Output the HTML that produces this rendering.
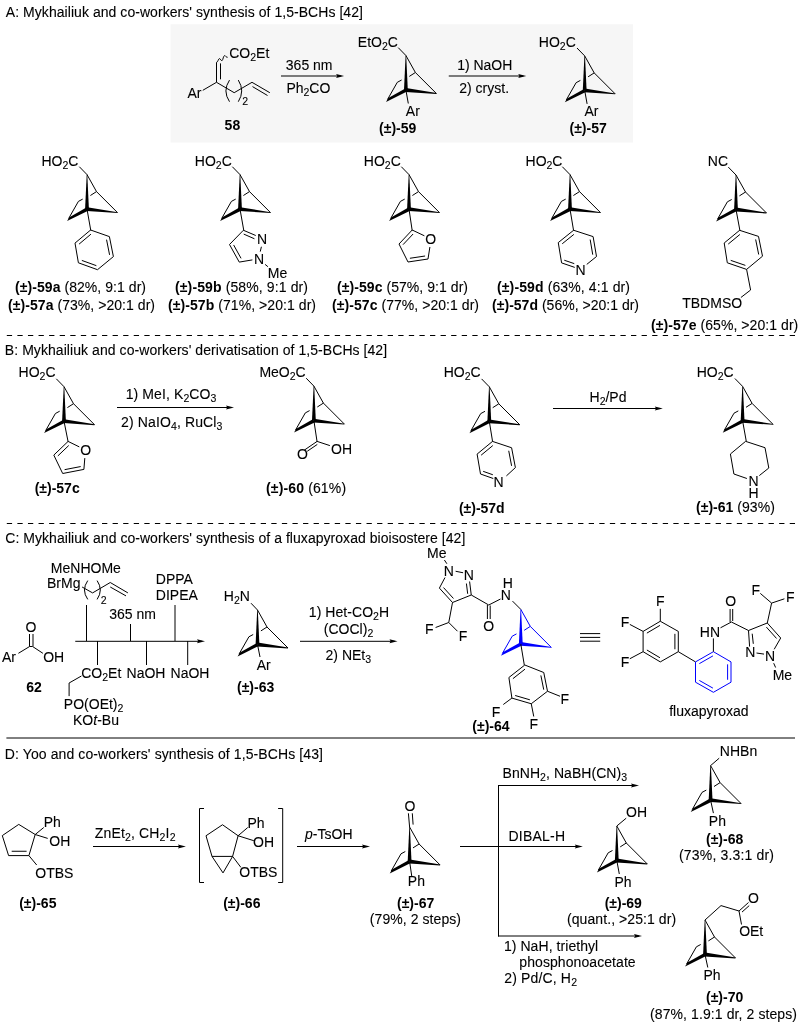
<!DOCTYPE html>
<html><head><meta charset="utf-8"><style>
html,body{margin:0;padding:0;background:#fff;}
svg{display:block;font-family:"Liberation Sans",sans-serif;will-change:transform;}
</style></head><body>
<svg width="800" height="1024" viewBox="0 0 800 1024" font-family="Liberation Sans, sans-serif"><rect x="0" y="0" width="800" height="1024" fill="#fff"/><rect x="170.6" y="24.25" width="462.4" height="118.25" fill="#f6f6f6"/><path d="M216.5,62.3 C218,62.3 218.3,58.6 219.4,58.6 S221.2,61.2 222.1,60.6 S223.4,55.6 224.6,55.6 S226.2,57.6 227.6,57.3" fill="none" stroke="#000" stroke-width="1"/><line x1="216.50" y1="62.30" x2="216.50" y2="82.30" stroke="#000" stroke-width="1"/><line x1="220.50" y1="63.40" x2="220.50" y2="79.30" stroke="#000" stroke-width="1"/><line x1="216.50" y1="82.30" x2="202.80" y2="90.30" stroke="#000" stroke-width="1"/><polyline points="216.50,82.30 234.20,92.70 252.00,82.30 269.80,92.70" fill="none" stroke="#000" stroke-width="1" stroke-linejoin="miter"/><line x1="252.50" y1="86.60" x2="267.50" y2="95.50" stroke="#000" stroke-width="1"/><path d="M229.5,80.1 Q222.3,90.9 229.5,101.7" fill="none" stroke="#000" stroke-width="1"/><path d="M238.3,80.1 Q245.1,90.9 238.3,101.7" fill="none" stroke="#000" stroke-width="1"/><line x1="281.00" y1="76.00" x2="341.10" y2="76.00" stroke="#000" stroke-width="1"/><polygon points="344.10,76.00 336.10,78.00 337.30,76.00 336.10,74.00" fill="#000"/><polygon points="405.60,55.50 404.00,90.00 407.80,90.00 406.20,55.50" fill="#000"/><polygon points="405.68,91.89 436.35,93.95 436.45,93.05 406.12,88.11" fill="#000"/><polygon points="405.30,88.50 406.50,91.80 386.00,101.90 388.30,98.10" fill="#000"/><polyline points="405.90,55.50 415.40,72.50 436.40,93.50" fill="none" stroke="#000" stroke-width="1" stroke-linejoin="miter"/><polyline points="387.50,99.50 397.30,82.30 401.60,80.00" fill="none" stroke="#000" stroke-width="1" stroke-linejoin="miter"/><line x1="409.30" y1="76.40" x2="415.40" y2="72.50" stroke="#000" stroke-width="1"/><line x1="405.90" y1="55.50" x2="398.20" y2="47.60" stroke="#000" stroke-width="1"/><line x1="405.90" y1="90.00" x2="408.30" y2="103.50" stroke="#000" stroke-width="1"/><line x1="448.75" y1="76.00" x2="523.25" y2="76.00" stroke="#000" stroke-width="1"/><polygon points="526.25,76.00 518.25,78.00 519.45,76.00 518.25,74.00" fill="#000"/><polygon points="584.40,55.90 582.80,90.40 586.60,90.40 585.00,55.90" fill="#000"/><polygon points="584.48,92.29 615.15,94.35 615.25,93.45 584.92,88.51" fill="#000"/><polygon points="584.10,88.90 585.30,92.20 564.80,102.30 567.10,98.50" fill="#000"/><polyline points="584.70,55.90 594.20,72.90 615.20,93.90" fill="none" stroke="#000" stroke-width="1" stroke-linejoin="miter"/><polyline points="566.30,99.90 576.10,82.70 580.40,80.40" fill="none" stroke="#000" stroke-width="1" stroke-linejoin="miter"/><line x1="588.10" y1="76.80" x2="594.20" y2="72.90" stroke="#000" stroke-width="1"/><line x1="584.70" y1="55.90" x2="577.00" y2="48.00" stroke="#000" stroke-width="1"/><line x1="584.70" y1="90.40" x2="587.10" y2="103.90" stroke="#000" stroke-width="1"/><polygon points="86.70,174.60 85.10,209.10 88.90,209.10 87.30,174.60" fill="#000"/><polygon points="86.78,210.99 117.45,213.05 117.55,212.15 87.22,207.21" fill="#000"/><polygon points="86.40,207.60 87.60,210.90 67.10,221.00 69.40,217.20" fill="#000"/><polyline points="87.00,174.60 96.50,191.60 117.50,212.60" fill="none" stroke="#000" stroke-width="1" stroke-linejoin="miter"/><polyline points="68.60,218.60 78.40,201.40 82.70,199.10" fill="none" stroke="#000" stroke-width="1" stroke-linejoin="miter"/><line x1="90.40" y1="195.50" x2="96.50" y2="191.60" stroke="#000" stroke-width="1"/><line x1="87.00" y1="174.60" x2="79.30" y2="166.70" stroke="#000" stroke-width="1"/><line x1="87.00" y1="209.10" x2="90.80" y2="230.60" stroke="#000" stroke-width="1"/><polygon points="90.60,230.00 109.40,236.60 113.40,256.60 97.50,269.70 78.40,262.80 75.00,243.10" fill="none" stroke="#000" stroke-width="1" stroke-linejoin="miter"/><line x1="106.55" y1="239.67" x2="109.59" y2="254.87" stroke="#000" stroke-width="1"/><line x1="96.36" y1="265.67" x2="81.85" y2="260.43" stroke="#000" stroke-width="1"/><line x1="79.06" y1="244.13" x2="90.91" y2="234.18" stroke="#000" stroke-width="1"/><polygon points="239.70,174.60 238.10,209.10 241.90,209.10 240.30,174.60" fill="#000"/><polygon points="239.78,210.99 270.45,213.05 270.55,212.15 240.22,207.21" fill="#000"/><polygon points="239.40,207.60 240.60,210.90 220.10,221.00 222.40,217.20" fill="#000"/><polyline points="240.00,174.60 249.50,191.60 270.50,212.60" fill="none" stroke="#000" stroke-width="1" stroke-linejoin="miter"/><polyline points="221.60,218.60 231.40,201.40 235.70,199.10" fill="none" stroke="#000" stroke-width="1" stroke-linejoin="miter"/><line x1="243.40" y1="195.50" x2="249.50" y2="191.60" stroke="#000" stroke-width="1"/><line x1="240.00" y1="174.60" x2="232.30" y2="166.70" stroke="#000" stroke-width="1"/><line x1="240.00" y1="209.10" x2="243.80" y2="230.60" stroke="#000" stroke-width="1"/><line x1="243.40" y1="230.25" x2="255.75" y2="235.50" stroke="#000" stroke-width="1"/><line x1="243.73" y1="234.10" x2="254.45" y2="238.78" stroke="#000" stroke-width="1"/><line x1="261.40" y1="246.75" x2="260.25" y2="251.60" stroke="#000" stroke-width="1"/><line x1="252.40" y1="259.90" x2="239.25" y2="262.10" stroke="#000" stroke-width="1"/><polyline points="239.25,262.10 229.50,244.50 243.40,230.25" fill="none" stroke="#000" stroke-width="1" stroke-linejoin="miter"/><line x1="241.05" y1="258.34" x2="233.64" y2="244.96" stroke="#000" stroke-width="1"/><line x1="265.10" y1="264.40" x2="267.90" y2="266.70" stroke="#000" stroke-width="1"/><polygon points="408.70,174.60 407.10,209.10 410.90,209.10 409.30,174.60" fill="#000"/><polygon points="408.78,210.99 439.45,213.05 439.55,212.15 409.22,207.21" fill="#000"/><polygon points="408.40,207.60 409.60,210.90 389.10,221.00 391.40,217.20" fill="#000"/><polyline points="409.00,174.60 418.50,191.60 439.50,212.60" fill="none" stroke="#000" stroke-width="1" stroke-linejoin="miter"/><polyline points="390.60,218.60 400.40,201.40 404.70,199.10" fill="none" stroke="#000" stroke-width="1" stroke-linejoin="miter"/><line x1="412.40" y1="195.50" x2="418.50" y2="191.60" stroke="#000" stroke-width="1"/><line x1="409.00" y1="174.60" x2="401.30" y2="166.70" stroke="#000" stroke-width="1"/><line x1="409.00" y1="209.10" x2="412.20" y2="230.60" stroke="#000" stroke-width="1"/><line x1="412.20" y1="230.00" x2="424.40" y2="235.80" stroke="#000" stroke-width="1"/><line x1="429.90" y1="247.00" x2="428.00" y2="259.00" stroke="#000" stroke-width="1"/><polyline points="428.00,259.00 408.00,262.00 399.00,244.00 412.20,230.00" fill="none" stroke="#000" stroke-width="1" stroke-linejoin="miter"/><line x1="413.09" y1="234.01" x2="403.06" y2="244.65" stroke="#000" stroke-width="1"/><line x1="409.90" y1="258.28" x2="425.10" y2="256.00" stroke="#000" stroke-width="1"/><polygon points="569.70,174.60 568.10,209.10 571.90,209.10 570.30,174.60" fill="#000"/><polygon points="569.78,210.99 600.45,213.05 600.55,212.15 570.22,207.21" fill="#000"/><polygon points="569.40,207.60 570.60,210.90 550.10,221.00 552.40,217.20" fill="#000"/><polyline points="570.00,174.60 579.50,191.60 600.50,212.60" fill="none" stroke="#000" stroke-width="1" stroke-linejoin="miter"/><polyline points="551.60,218.60 561.40,201.40 565.70,199.10" fill="none" stroke="#000" stroke-width="1" stroke-linejoin="miter"/><line x1="573.40" y1="195.50" x2="579.50" y2="191.60" stroke="#000" stroke-width="1"/><line x1="570.00" y1="174.60" x2="562.30" y2="166.70" stroke="#000" stroke-width="1"/><line x1="570.00" y1="209.10" x2="573.60" y2="230.70" stroke="#000" stroke-width="1"/><polyline points="574.75,267.40 561.60,262.90 558.25,242.60 573.60,230.25 593.10,236.60 596.50,256.50 586.75,264.40" fill="none" stroke="#000" stroke-width="1" stroke-linejoin="miter"/><line x1="573.89" y1="234.38" x2="562.22" y2="243.77" stroke="#000" stroke-width="1"/><line x1="590.16" y1="239.56" x2="592.74" y2="254.68" stroke="#000" stroke-width="1"/><line x1="564.28" y1="260.22" x2="574.27" y2="263.64" stroke="#000" stroke-width="1"/><polygon points="735.70,175.00 734.10,209.50 737.90,209.50 736.30,175.00" fill="#000"/><polygon points="735.78,211.39 766.45,213.45 766.55,212.55 736.22,207.61" fill="#000"/><polygon points="735.40,208.00 736.60,211.30 716.10,221.40 718.40,217.60" fill="#000"/><polyline points="736.00,175.00 745.50,192.00 766.50,213.00" fill="none" stroke="#000" stroke-width="1" stroke-linejoin="miter"/><polyline points="717.60,219.00 727.40,201.80 731.70,199.50" fill="none" stroke="#000" stroke-width="1" stroke-linejoin="miter"/><line x1="739.40" y1="195.90" x2="745.50" y2="192.00" stroke="#000" stroke-width="1"/><line x1="736.00" y1="175.00" x2="728.30" y2="167.10" stroke="#000" stroke-width="1"/><line x1="736.00" y1="209.50" x2="740.00" y2="231.00" stroke="#000" stroke-width="1"/><polygon points="739.60,230.30 758.50,236.40 762.50,256.20 746.60,269.40 727.30,262.80 724.20,243.00" fill="none" stroke="#000" stroke-width="1" stroke-linejoin="miter"/><line x1="755.65" y1="239.45" x2="758.69" y2="254.50" stroke="#000" stroke-width="1"/><line x1="745.38" y1="265.39" x2="730.72" y2="260.37" stroke="#000" stroke-width="1"/><line x1="728.21" y1="244.10" x2="739.92" y2="234.45" stroke="#000" stroke-width="1"/><polyline points="746.60,269.40 750.60,290.00 740.90,297.50" fill="none" stroke="#000" stroke-width="1" stroke-linejoin="miter"/><line x1="6.8" y1="335.5" x2="795.5" y2="335.5" stroke="#000" stroke-width="1" stroke-dasharray="5.3 5.28"/><polygon points="63.70,386.70 62.10,421.20 65.90,421.20 64.30,386.70" fill="#000"/><polygon points="63.78,423.09 94.45,425.15 94.55,424.25 64.22,419.31" fill="#000"/><polygon points="63.40,419.70 64.60,423.00 44.10,433.10 46.40,429.30" fill="#000"/><polyline points="64.00,386.70 73.50,403.70 94.50,424.70" fill="none" stroke="#000" stroke-width="1" stroke-linejoin="miter"/><polyline points="45.60,430.70 55.40,413.50 59.70,411.20" fill="none" stroke="#000" stroke-width="1" stroke-linejoin="miter"/><line x1="67.40" y1="407.60" x2="73.50" y2="403.70" stroke="#000" stroke-width="1"/><line x1="64.00" y1="386.70" x2="56.30" y2="378.80" stroke="#000" stroke-width="1"/><line x1="64.00" y1="421.20" x2="68.10" y2="441.70" stroke="#000" stroke-width="1"/><line x1="68.10" y1="441.40" x2="79.30" y2="446.90" stroke="#000" stroke-width="1"/><line x1="84.80" y1="458.10" x2="83.90" y2="469.40" stroke="#000" stroke-width="1"/><polyline points="83.90,469.40 62.70,473.50 53.80,455.10 68.10,441.40" fill="none" stroke="#000" stroke-width="1" stroke-linejoin="miter"/><line x1="68.74" y1="445.50" x2="57.87" y2="455.91" stroke="#000" stroke-width="1"/><line x1="64.60" y1="469.67" x2="80.71" y2="466.55" stroke="#000" stroke-width="1"/><line x1="117.00" y1="407.50" x2="231.00" y2="407.50" stroke="#000" stroke-width="1"/><polygon points="234.00,407.50 226.00,409.50 227.20,407.50 226.00,405.50" fill="#000"/><polygon points="313.60,386.10 312.00,420.60 315.80,420.60 314.20,386.10" fill="#000"/><polygon points="313.68,422.49 344.35,424.55 344.45,423.65 314.12,418.71" fill="#000"/><polygon points="313.30,419.10 314.50,422.40 294.00,432.50 296.30,428.70" fill="#000"/><polyline points="313.90,386.10 323.40,403.10 344.40,424.10" fill="none" stroke="#000" stroke-width="1" stroke-linejoin="miter"/><polyline points="295.50,430.10 305.30,412.90 309.60,410.60" fill="none" stroke="#000" stroke-width="1" stroke-linejoin="miter"/><line x1="317.30" y1="407.00" x2="323.40" y2="403.10" stroke="#000" stroke-width="1"/><line x1="313.90" y1="386.10" x2="306.20" y2="378.20" stroke="#000" stroke-width="1"/><line x1="313.90" y1="420.60" x2="317.10" y2="441.90" stroke="#000" stroke-width="1"/><line x1="317.10" y1="441.40" x2="304.50" y2="450.00" stroke="#000" stroke-width="1"/><line x1="317.31" y1="444.41" x2="307.23" y2="451.29" stroke="#000" stroke-width="1"/><line x1="317.10" y1="441.40" x2="329.90" y2="445.60" stroke="#000" stroke-width="1"/><polygon points="489.00,386.80 487.40,421.30 491.20,421.30 489.60,386.80" fill="#000"/><polygon points="489.08,423.19 519.75,425.25 519.85,424.35 489.52,419.41" fill="#000"/><polygon points="488.70,419.80 489.90,423.10 469.40,433.20 471.70,429.40" fill="#000"/><polyline points="489.30,386.80 498.80,403.80 519.80,424.80" fill="none" stroke="#000" stroke-width="1" stroke-linejoin="miter"/><polyline points="470.90,430.80 480.70,413.60 485.00,411.30" fill="none" stroke="#000" stroke-width="1" stroke-linejoin="miter"/><line x1="492.70" y1="407.70" x2="498.80" y2="403.80" stroke="#000" stroke-width="1"/><line x1="489.30" y1="386.80" x2="481.60" y2="378.90" stroke="#000" stroke-width="1"/><line x1="489.30" y1="421.30" x2="492.60" y2="441.70" stroke="#000" stroke-width="1"/><polyline points="493.25,478.50 480.50,474.00 477.10,454.10 492.50,441.40 511.60,447.75 515.40,467.60 506.40,475.90" fill="none" stroke="#000" stroke-width="1" stroke-linejoin="miter"/><line x1="492.82" y1="445.55" x2="481.11" y2="455.20" stroke="#000" stroke-width="1"/><line x1="508.72" y1="450.77" x2="511.60" y2="465.86" stroke="#000" stroke-width="1"/><line x1="483.16" y1="471.33" x2="492.85" y2="474.75" stroke="#000" stroke-width="1"/><line x1="553.00" y1="408.50" x2="659.80" y2="408.50" stroke="#000" stroke-width="1"/><polygon points="662.80,408.50 654.80,410.50 656.00,408.50 654.80,406.50" fill="#000"/><polygon points="742.30,386.40 740.70,420.90 744.50,420.90 742.90,386.40" fill="#000"/><polygon points="742.38,422.79 773.05,424.85 773.15,423.95 742.82,419.01" fill="#000"/><polygon points="742.00,419.40 743.20,422.70 722.70,432.80 725.00,429.00" fill="#000"/><polyline points="742.60,386.40 752.10,403.40 773.10,424.40" fill="none" stroke="#000" stroke-width="1" stroke-linejoin="miter"/><polyline points="724.20,430.40 734.00,413.20 738.30,410.90" fill="none" stroke="#000" stroke-width="1" stroke-linejoin="miter"/><line x1="746.00" y1="407.30" x2="752.10" y2="403.40" stroke="#000" stroke-width="1"/><line x1="742.60" y1="386.40" x2="734.90" y2="378.50" stroke="#000" stroke-width="1"/><line x1="742.60" y1="420.90" x2="746.30" y2="441.40" stroke="#000" stroke-width="1"/><polyline points="759.30,475.60 768.80,468.00 765.00,447.70 745.60,441.35 730.40,454.00 733.90,474.00 746.90,478.50" fill="none" stroke="#000" stroke-width="1" stroke-linejoin="miter"/><line x1="6.8" y1="523.5" x2="795.5" y2="523.5" stroke="#000" stroke-width="1" stroke-dasharray="5.3 5.28"/><line x1="29.50" y1="634.00" x2="29.50" y2="646.60" stroke="#000" stroke-width="1"/><line x1="33.00" y1="634.00" x2="33.00" y2="646.40" stroke="#000" stroke-width="1"/><polyline points="18.40,653.30 29.60,646.50 32.60,646.50 42.90,653.30" fill="none" stroke="#000" stroke-width="1" stroke-linejoin="miter"/><line x1="75.25" y1="641.30" x2="202.00" y2="641.30" stroke="#000" stroke-width="1"/><polygon points="205.00,641.30 197.00,643.30 198.20,641.30 197.00,639.30" fill="#000"/><line x1="86.50" y1="605.00" x2="86.50" y2="641.00" stroke="#000" stroke-width="1"/><line x1="97.50" y1="641.00" x2="97.50" y2="665.00" stroke="#000" stroke-width="1"/><line x1="130.50" y1="624.00" x2="130.50" y2="641.00" stroke="#000" stroke-width="1"/><line x1="146.50" y1="641.00" x2="146.50" y2="665.00" stroke="#000" stroke-width="1"/><line x1="175.00" y1="605.00" x2="175.00" y2="641.00" stroke="#000" stroke-width="1"/><line x1="187.70" y1="641.00" x2="187.70" y2="665.00" stroke="#000" stroke-width="1"/><polyline points="82.10,587.00 92.60,592.90 110.25,582.50 127.90,592.90" fill="none" stroke="#000" stroke-width="1" stroke-linejoin="miter"/><line x1="110.25" y1="587.00" x2="126.00" y2="595.90" stroke="#000" stroke-width="1"/><path d="M87.75,580.6 Q81.2,590 87.75,599.4" fill="none" stroke="#000" stroke-width="1"/><path d="M97.1,580.6 Q103.5,590 97.1,599.4" fill="none" stroke="#000" stroke-width="1"/><polyline points="81.40,676.00 69.10,683.00 69.10,696.10" fill="none" stroke="#000" stroke-width="1" stroke-linejoin="miter"/><polygon points="257.20,610.00 255.60,644.50 259.40,644.50 257.80,610.00" fill="#000"/><polygon points="257.28,646.39 287.95,648.45 288.05,647.55 257.72,642.61" fill="#000"/><polygon points="256.90,643.00 258.10,646.30 237.60,656.40 239.90,652.60" fill="#000"/><polyline points="257.50,610.00 267.00,627.00 288.00,648.00" fill="none" stroke="#000" stroke-width="1" stroke-linejoin="miter"/><polyline points="239.10,654.00 248.90,636.80 253.20,634.50" fill="none" stroke="#000" stroke-width="1" stroke-linejoin="miter"/><line x1="260.90" y1="630.90" x2="267.00" y2="627.00" stroke="#000" stroke-width="1"/><line x1="257.50" y1="610.00" x2="251.00" y2="603.20" stroke="#000" stroke-width="1"/><line x1="257.50" y1="644.50" x2="260.00" y2="657.00" stroke="#000" stroke-width="1"/><line x1="300.00" y1="641.30" x2="394.50" y2="641.30" stroke="#000" stroke-width="1"/><polygon points="397.50,641.30 389.50,643.30 390.70,641.30 389.50,639.30" fill="#000"/><polygon points="520.50,609.40 518.90,643.90 522.70,643.90 521.10,609.40" fill="#0000ff"/><polygon points="520.58,645.79 551.25,647.85 551.35,646.95 521.02,642.01" fill="#0000ff"/><polygon points="520.20,642.40 521.40,645.70 500.90,655.80 503.20,652.00" fill="#0000ff"/><polyline points="520.80,609.40 530.30,626.40 551.30,647.40" fill="none" stroke="#0000ff" stroke-width="1" stroke-linejoin="miter"/><polyline points="502.40,653.40 512.20,636.20 516.50,633.90" fill="none" stroke="#0000ff" stroke-width="1" stroke-linejoin="miter"/><line x1="524.20" y1="630.30" x2="530.30" y2="626.40" stroke="#0000ff" stroke-width="1"/><line x1="512.50" y1="601.10" x2="520.80" y2="609.40" stroke="#000" stroke-width="1"/><line x1="520.80" y1="644.00" x2="524.30" y2="665.00" stroke="#000" stroke-width="1"/><polygon points="524.80,665.00 543.75,672.50 547.50,691.25 531.25,703.75 511.90,698.10 508.90,677.50" fill="none" stroke="#000" stroke-width="1" stroke-linejoin="miter"/><line x1="540.87" y1="675.42" x2="543.72" y2="689.67" stroke="#000" stroke-width="1"/><line x1="529.88" y1="699.81" x2="515.17" y2="695.51" stroke="#000" stroke-width="1"/><line x1="512.91" y1="678.67" x2="524.99" y2="669.17" stroke="#000" stroke-width="1"/><line x1="547.50" y1="691.25" x2="560.00" y2="696.25" stroke="#000" stroke-width="1"/><line x1="531.25" y1="703.75" x2="533.75" y2="716.50" stroke="#000" stroke-width="1"/><line x1="511.90" y1="698.10" x2="503.30" y2="704.50" stroke="#000" stroke-width="1"/><line x1="444.40" y1="560.00" x2="446.90" y2="563.75" stroke="#000" stroke-width="1"/><line x1="455.60" y1="571.25" x2="463.10" y2="572.75" stroke="#000" stroke-width="1"/><line x1="445.00" y1="577.50" x2="439.40" y2="588.10" stroke="#000" stroke-width="1"/><line x1="439.40" y1="588.10" x2="452.50" y2="602.50" stroke="#000" stroke-width="1"/><line x1="443.49" y1="587.54" x2="453.44" y2="598.48" stroke="#000" stroke-width="1"/><line x1="452.50" y1="602.50" x2="471.25" y2="595.00" stroke="#000" stroke-width="1"/><line x1="471.25" y1="595.00" x2="469.60" y2="581.50" stroke="#000" stroke-width="1"/><line x1="467.68" y1="593.79" x2="466.42" y2="583.53" stroke="#000" stroke-width="1"/><line x1="471.25" y1="595.00" x2="488.75" y2="605.00" stroke="#000" stroke-width="1"/><line x1="487.40" y1="605.00" x2="487.40" y2="619.00" stroke="#000" stroke-width="1"/><line x1="490.20" y1="605.50" x2="490.20" y2="619.00" stroke="#000" stroke-width="1"/><line x1="488.75" y1="605.00" x2="500.50" y2="599.00" stroke="#000" stroke-width="1"/><line x1="452.50" y1="602.50" x2="448.75" y2="622.50" stroke="#000" stroke-width="1"/><line x1="448.75" y1="622.50" x2="435.60" y2="627.50" stroke="#000" stroke-width="1"/><line x1="448.75" y1="622.50" x2="457.50" y2="631.25" stroke="#000" stroke-width="1"/><line x1="580.00" y1="633.60" x2="600.20" y2="633.60" stroke="#000" stroke-width="1"/><line x1="580.00" y1="637.40" x2="600.20" y2="637.40" stroke="#000" stroke-width="1"/><line x1="580.00" y1="641.20" x2="600.20" y2="641.20" stroke="#000" stroke-width="1"/><polygon points="660.30,621.25 678.30,631.40 678.30,651.70 660.30,661.90 643.10,651.70 643.10,631.40" fill="none" stroke="#000" stroke-width="1" stroke-linejoin="miter"/><line x1="646.89" y1="633.11" x2="659.96" y2="625.40" stroke="#000" stroke-width="1"/><line x1="674.90" y1="633.84" x2="674.90" y2="649.26" stroke="#000" stroke-width="1"/><line x1="659.97" y1="657.75" x2="646.90" y2="650.00" stroke="#000" stroke-width="1"/><line x1="660.30" y1="621.25" x2="660.30" y2="608.75" stroke="#000" stroke-width="1"/><line x1="643.10" y1="631.40" x2="629.80" y2="624.40" stroke="#000" stroke-width="1"/><line x1="643.10" y1="651.70" x2="629.80" y2="658.75" stroke="#000" stroke-width="1"/><line x1="678.30" y1="651.70" x2="695.50" y2="661.90" stroke="#000" stroke-width="1"/><polygon points="695.50,661.90 713.40,651.70 731.00,661.90 731.00,682.20 713.40,692.30 695.50,682.20" fill="none" stroke="#0000ff" stroke-width="1" stroke-linejoin="miter"/><line x1="699.33" y1="663.63" x2="712.94" y2="655.88" stroke="#0000ff" stroke-width="1"/><line x1="727.60" y1="664.34" x2="727.60" y2="679.76" stroke="#0000ff" stroke-width="1"/><line x1="712.92" y1="688.13" x2="699.32" y2="680.45" stroke="#0000ff" stroke-width="1"/><line x1="713.40" y1="651.70" x2="713.40" y2="638.40" stroke="#000" stroke-width="1"/><line x1="720.50" y1="627.80" x2="731.40" y2="622.00" stroke="#000" stroke-width="1"/><line x1="730.10" y1="622.00" x2="730.10" y2="609.00" stroke="#000" stroke-width="1"/><line x1="732.70" y1="621.00" x2="732.70" y2="609.00" stroke="#000" stroke-width="1"/><line x1="731.40" y1="622.00" x2="748.50" y2="630.50" stroke="#000" stroke-width="1"/><polyline points="748.50,630.50 767.30,623.00 780.70,638.00" fill="none" stroke="#000" stroke-width="1" stroke-linejoin="miter"/><line x1="766.37" y1="627.07" x2="776.56" y2="638.47" stroke="#000" stroke-width="1"/><line x1="780.70" y1="638.00" x2="774.20" y2="649.30" stroke="#000" stroke-width="1"/><line x1="748.50" y1="630.50" x2="749.60" y2="646.60" stroke="#000" stroke-width="1"/><line x1="752.20" y1="633.70" x2="753.30" y2="643.80" stroke="#000" stroke-width="1"/><line x1="756.50" y1="653.00" x2="764.00" y2="654.10" stroke="#000" stroke-width="1"/><line x1="773.70" y1="663.20" x2="775.60" y2="667.50" stroke="#000" stroke-width="1"/><line x1="767.30" y1="623.00" x2="771.60" y2="603.10" stroke="#000" stroke-width="1"/><line x1="771.60" y1="603.10" x2="760.30" y2="593.40" stroke="#000" stroke-width="1"/><line x1="771.60" y1="603.10" x2="784.40" y2="598.80" stroke="#000" stroke-width="1"/><line x1="6.4" y1="738" x2="795" y2="738" stroke="#000" stroke-width="1"/><polygon points="35.20,834.50 18.75,824.40 2.30,835.60 8.60,855.60 28.90,855.60" fill="none" stroke="#000" stroke-width="1" stroke-linejoin="miter"/><line x1="11.70" y1="851.25" x2="26.60" y2="851.25" stroke="#000" stroke-width="1"/><line x1="35.20" y1="834.50" x2="43.75" y2="827.50" stroke="#000" stroke-width="1"/><line x1="35.20" y1="834.50" x2="47.70" y2="838.40" stroke="#000" stroke-width="1"/><line x1="28.90" y1="855.60" x2="36.70" y2="865.00" stroke="#000" stroke-width="1"/><line x1="93.00" y1="846.50" x2="182.90" y2="846.50" stroke="#000" stroke-width="1"/><polygon points="185.90,846.50 177.90,848.50 179.10,846.50 177.90,844.50" fill="#000"/><polyline points="204.00,808.50 199.50,808.50 199.50,882.50 204.00,882.50" fill="none" stroke="#000" stroke-width="1" stroke-linejoin="miter"/><polyline points="278.10,808.50 282.70,808.50 282.70,882.50 278.10,882.50" fill="none" stroke="#000" stroke-width="1" stroke-linejoin="miter"/><polyline points="238.10,835.75 222.50,824.75 206.00,835.75 212.00,856.40 232.60,856.40 238.10,835.75" fill="none" stroke="#000" stroke-width="1" stroke-linejoin="miter"/><polyline points="212.00,856.40 223.00,872.90 232.60,856.40" fill="none" stroke="#000" stroke-width="1" stroke-linejoin="miter"/><line x1="238.10" y1="835.75" x2="247.75" y2="827.50" stroke="#000" stroke-width="1"/><line x1="238.10" y1="835.75" x2="253.80" y2="840.70" stroke="#000" stroke-width="1"/><line x1="232.60" y1="856.40" x2="240.90" y2="867.40" stroke="#000" stroke-width="1"/><line x1="297.00" y1="846.50" x2="367.00" y2="846.50" stroke="#000" stroke-width="1"/><polygon points="370.00,846.50 362.00,848.50 363.20,846.50 362.00,844.50" fill="#000"/><polygon points="409.30,827.00 407.70,861.50 411.50,861.50 409.90,827.00" fill="#000"/><polygon points="409.38,863.39 440.05,865.45 440.15,864.55 409.82,859.61" fill="#000"/><polygon points="409.00,860.00 410.20,863.30 389.70,873.40 392.00,869.60" fill="#000"/><polyline points="409.60,827.00 419.10,844.00 440.10,865.00" fill="none" stroke="#000" stroke-width="1" stroke-linejoin="miter"/><polyline points="391.20,871.00 401.00,853.80 405.30,851.50" fill="none" stroke="#000" stroke-width="1" stroke-linejoin="miter"/><line x1="413.00" y1="847.90" x2="419.10" y2="844.00" stroke="#000" stroke-width="1"/><line x1="409.60" y1="861.50" x2="411.80" y2="876.50" stroke="#000" stroke-width="1"/><line x1="409.60" y1="827.00" x2="408.40" y2="813.30" stroke="#000" stroke-width="1"/><line x1="412.30" y1="813.30" x2="413.10" y2="824.60" stroke="#000" stroke-width="1"/><line x1="498.50" y1="785.00" x2="498.50" y2="936.50" stroke="#000" stroke-width="1"/><line x1="498.00" y1="785.50" x2="636.00" y2="785.50" stroke="#000" stroke-width="1"/><polygon points="639.00,785.50 631.00,787.50 632.20,785.50 631.00,783.50" fill="#000"/><line x1="460.00" y1="846.50" x2="579.80" y2="846.50" stroke="#000" stroke-width="1"/><polygon points="582.80,846.50 574.80,848.50 576.00,846.50 574.80,844.50" fill="#000"/><line x1="498.00" y1="936.00" x2="639.00" y2="936.00" stroke="#000" stroke-width="1"/><polygon points="642.00,936.00 634.00,938.00 635.20,936.00 634.00,934.00" fill="#000"/><polygon points="616.50,826.00 614.90,860.50 618.70,860.50 617.10,826.00" fill="#000"/><polygon points="616.58,862.39 647.25,864.45 647.35,863.55 617.02,858.61" fill="#000"/><polygon points="616.20,859.00 617.40,862.30 596.90,872.40 599.20,868.60" fill="#000"/><polyline points="616.80,826.00 626.30,843.00 647.30,864.00" fill="none" stroke="#000" stroke-width="1" stroke-linejoin="miter"/><polyline points="598.40,870.00 608.20,852.80 612.50,850.50" fill="none" stroke="#000" stroke-width="1" stroke-linejoin="miter"/><line x1="620.20" y1="846.90" x2="626.30" y2="843.00" stroke="#000" stroke-width="1"/><line x1="616.80" y1="826.00" x2="626.20" y2="818.20" stroke="#000" stroke-width="1"/><line x1="616.80" y1="860.50" x2="619.30" y2="874.00" stroke="#000" stroke-width="1"/><polygon points="710.30,765.60 708.70,800.10 712.50,800.10 710.90,765.60" fill="#000"/><polygon points="710.38,801.99 741.05,804.05 741.15,803.15 710.82,798.21" fill="#000"/><polygon points="710.00,798.60 711.20,801.90 690.70,812.00 693.00,808.20" fill="#000"/><polyline points="710.60,765.60 720.10,782.60 741.10,803.60" fill="none" stroke="#000" stroke-width="1" stroke-linejoin="miter"/><polyline points="692.20,809.60 702.00,792.40 706.30,790.10" fill="none" stroke="#000" stroke-width="1" stroke-linejoin="miter"/><line x1="714.00" y1="786.50" x2="720.10" y2="782.60" stroke="#000" stroke-width="1"/><line x1="710.60" y1="765.60" x2="719.20" y2="758.20" stroke="#000" stroke-width="1"/><line x1="710.60" y1="800.10" x2="713.40" y2="813.10" stroke="#000" stroke-width="1"/><polygon points="704.70,920.00 703.10,954.50 706.90,954.50 705.30,920.00" fill="#000"/><polygon points="704.78,956.39 735.45,958.45 735.55,957.55 705.22,952.61" fill="#000"/><polygon points="704.40,953.00 705.60,956.30 685.10,966.40 687.40,962.60" fill="#000"/><polyline points="705.00,920.00 714.50,937.00 735.50,958.00" fill="none" stroke="#000" stroke-width="1" stroke-linejoin="miter"/><polyline points="686.60,964.00 696.40,946.80 700.70,944.50" fill="none" stroke="#000" stroke-width="1" stroke-linejoin="miter"/><line x1="708.40" y1="940.90" x2="714.50" y2="937.00" stroke="#000" stroke-width="1"/><line x1="705.00" y1="954.50" x2="707.80" y2="967.50" stroke="#000" stroke-width="1"/><polyline points="705.00,920.00 721.00,905.60 739.00,911.00" fill="none" stroke="#000" stroke-width="1" stroke-linejoin="miter"/><line x1="739.00" y1="911.00" x2="748.50" y2="902.50" stroke="#000" stroke-width="1"/><line x1="742.01" y1="912.07" x2="749.23" y2="905.61" stroke="#000" stroke-width="1"/><line x1="739.00" y1="911.00" x2="741.50" y2="924.50" stroke="#000" stroke-width="1"/><g stroke="#000" stroke-width="0.1"><text x="5.83" y="16.90" font-size="14" textLength="357.11" text-anchor="start" fill="#000"><tspan>A: Mykhailiuk and co-workers' synthesis of 1,5-BCHs [42]</tspan></text><text x="229.24" y="57.70" font-size="14" text-anchor="start" fill="#000"><tspan>CO</tspan><tspan font-size="10.5" dy="3">2</tspan><tspan dy="-3">Et</tspan></text><text x="242.35" y="105.30" font-size="10.5" text-anchor="start" fill="#000"><tspan>2</tspan></text><text x="187.46" y="97.50" font-size="14" text-anchor="start" fill="#000"><tspan>Ar</tspan></text><text x="224.62" y="129.75" font-size="14" font-weight="bold" stroke="none" text-anchor="start" fill="#000"><tspan>58</tspan></text><text x="285.82" y="70.00" font-size="14" text-anchor="start" fill="#000"><tspan>365 nm</tspan></text><text x="286.40" y="92.80" font-size="14" text-anchor="start" fill="#000"><tspan>Ph</tspan><tspan font-size="10.5" dy="3">2</tspan><tspan dy="-3">CO</tspan></text><text x="357.80" y="46.90" font-size="14" text-anchor="start" fill="#000"><tspan>EtO</tspan><tspan font-size="10.5" dy="3">2</tspan><tspan dy="-3">C</tspan></text><text x="405.83" y="116.00" font-size="14" text-anchor="start" fill="#000"><tspan>Ar</tspan></text><text x="379.07" y="132.60" font-size="14" font-weight="bold" stroke="none" text-anchor="start" fill="#000"><tspan>(±)-59</tspan></text><text x="457.13" y="69.70" font-size="14" text-anchor="start" fill="#000"><tspan>1) NaOH</tspan></text><text x="459.29" y="92.60" font-size="14" text-anchor="start" fill="#000"><tspan>2) cryst.</tspan></text><text x="538.86" y="46.80" font-size="14" text-anchor="start" fill="#000"><tspan>HO</tspan><tspan font-size="10.5" dy="3">2</tspan><tspan dy="-3">C</tspan></text><text x="584.46" y="116.10" font-size="14" text-anchor="start" fill="#000"><tspan>Ar</tspan></text><text x="569.50" y="132.60" font-size="14" font-weight="bold" stroke="none" text-anchor="start" fill="#000"><tspan>(±)-57</tspan></text><text x="41.45" y="166.00" font-size="14" text-anchor="start" fill="#000"><tspan>HO</tspan><tspan font-size="10.5" dy="3">2</tspan><tspan dy="-3">C</tspan></text><text x="15.04" y="291.60" font-size="14" textLength="130.99" text-anchor="start" fill="#000"><tspan font-weight="bold" stroke="none">(±)-59a</tspan><tspan> (82%, 9:1 dr)</tspan></text><text x="8.07" y="310.00" font-size="14" textLength="146.97" text-anchor="start" fill="#000"><tspan font-weight="bold" stroke="none">(±)-57a</tspan><tspan> (73%, &gt;20:1 dr)</tspan></text><text x="194.86" y="165.60" font-size="14" text-anchor="start" fill="#000"><tspan>HO</tspan><tspan font-size="10.5" dy="3">2</tspan><tspan dy="-3">C</tspan></text><text x="257.07" y="243.70" font-size="14" text-anchor="start" fill="#000"><tspan>N</tspan></text><text x="254.07" y="264.00" font-size="14" text-anchor="start" fill="#000"><tspan>N</tspan></text><text x="267.86" y="278.00" font-size="14" text-anchor="start" fill="#000"><tspan>Me</tspan></text><text x="175.04" y="291.60" font-size="14" textLength="132.99" text-anchor="start" fill="#000"><tspan font-weight="bold" stroke="none">(±)-59b</tspan><tspan> (58%, 9:1 dr)</tspan></text><text x="168.07" y="310.00" font-size="14" textLength="147.97" text-anchor="start" fill="#000"><tspan font-weight="bold" stroke="none">(±)-57b</tspan><tspan> (71%, &gt;20:1 dr)</tspan></text><text x="363.86" y="166.00" font-size="14" text-anchor="start" fill="#000"><tspan>HO</tspan><tspan font-size="10.5" dy="3">2</tspan><tspan dy="-3">C</tspan></text><text x="425.29" y="244.00" font-size="14" text-anchor="start" fill="#000"><tspan>O</tspan></text><text x="337.04" y="291.60" font-size="14" textLength="130.99" text-anchor="start" fill="#000"><tspan font-weight="bold" stroke="none">(±)-59c</tspan><tspan> (57%, 9:1 dr)</tspan></text><text x="332.07" y="310.00" font-size="14" textLength="146.97" text-anchor="start" fill="#000"><tspan font-weight="bold" stroke="none">(±)-57c</tspan><tspan> (77%, &gt;20:1 dr)</tspan></text><text x="525.52" y="166.00" font-size="14" text-anchor="start" fill="#000"><tspan>HO</tspan><tspan font-size="10.5" dy="3">2</tspan><tspan dy="-3">C</tspan></text><text x="575.45" y="274.90" font-size="14" text-anchor="start" fill="#000"><tspan>N</tspan></text><text x="497.04" y="291.60" font-size="14" textLength="132.99" text-anchor="start" fill="#000"><tspan font-weight="bold" stroke="none">(±)-59d</tspan><tspan> (63%, 4:1 dr)</tspan></text><text x="492.07" y="310.00" font-size="14" textLength="146.97" text-anchor="start" fill="#000"><tspan font-weight="bold" stroke="none">(±)-57d</tspan><tspan> (56%, &gt;20:1 dr)</tspan></text><text x="707.85" y="165.60" font-size="14" text-anchor="start" fill="#000"><tspan>NC</tspan></text><text x="682.23" y="308.00" font-size="14" text-anchor="start" fill="#000"><tspan>TBDMSO</tspan></text><text x="651.04" y="330.00" font-size="14" textLength="147.25" text-anchor="start" fill="#000"><tspan font-weight="bold" stroke="none">(±)-57e</tspan><tspan> (65%, &gt;20:1 dr)</tspan></text><text x="4.85" y="354.50" font-size="14" textLength="382.25" text-anchor="start" fill="#000"><tspan>B: Mykhailiuk and co-workers' derivatisation of 1,5-BCHs [42]</tspan></text><text x="18.55" y="377.10" font-size="14" text-anchor="start" fill="#000"><tspan>HO</tspan><tspan font-size="10.5" dy="3">2</tspan><tspan dy="-3">C</tspan></text><text x="80.30" y="455.10" font-size="14" text-anchor="start" fill="#000"><tspan>O</tspan></text><text x="34.65" y="492.70" font-size="14" font-weight="bold" stroke="none" text-anchor="start" fill="#000"><tspan>(±)-57c</tspan></text><text x="125.66" y="399.20" font-size="14" textLength="90.77" text-anchor="start" fill="#000"><tspan>1) MeI, K</tspan><tspan font-size="10.5" dy="3">2</tspan><tspan dy="-3">CO</tspan><tspan font-size="10.5" dy="3">3</tspan></text><text x="121.02" y="426.60" font-size="14" textLength="101.44" text-anchor="start" fill="#000"><tspan>2) NaIO</tspan><tspan font-size="10.5" dy="3">4</tspan><tspan dy="-3">, RuCl</tspan><tspan font-size="10.5" dy="3">3</tspan></text><text x="259.40" y="377.20" font-size="14" text-anchor="start" fill="#000"><tspan>MeO</tspan><tspan font-size="10.5" dy="3">2</tspan><tspan dy="-3">C</tspan></text><text x="297.09" y="459.40" font-size="14" text-anchor="start" fill="#000"><tspan>O</tspan></text><text x="331.09" y="453.50" font-size="14" text-anchor="start" fill="#000"><tspan>OH</tspan></text><text x="266.01" y="492.75" font-size="14" textLength="80.05" text-anchor="start" fill="#000"><tspan font-weight="bold" stroke="none">(±)-60</tspan><tspan> (61%)</tspan></text><text x="443.71" y="377.06" font-size="14" text-anchor="start" fill="#000"><tspan>HO</tspan><tspan font-size="10.5" dy="3">2</tspan><tspan dy="-3">C</tspan></text><text x="493.40" y="486.50" font-size="14" text-anchor="start" fill="#000"><tspan>N</tspan></text><text x="458.89" y="512.70" font-size="14" font-weight="bold" stroke="none" text-anchor="start" fill="#000"><tspan>(±)-57d</tspan></text><text x="589.52" y="402.25" font-size="14" text-anchor="start" fill="#000"><tspan>H</tspan><tspan font-size="10.5" dy="3">2</tspan><tspan dy="-3">/Pd</tspan></text><text x="696.74" y="376.90" font-size="14" text-anchor="start" fill="#000"><tspan>HO</tspan><tspan font-size="10.5" dy="3">2</tspan><tspan dy="-3">C</tspan></text><text x="748.52" y="486.00" font-size="14" text-anchor="start" fill="#000"><tspan>N</tspan></text><text x="748.52" y="498.00" font-size="14" text-anchor="start" fill="#000"><tspan>H</tspan></text><text x="696.00" y="512.40" font-size="14" textLength="78.84" text-anchor="start" fill="#000"><tspan font-weight="bold" stroke="none">(±)-61</tspan><tspan> (93%)</tspan></text><text x="5.29" y="542.50" font-size="14" textLength="460.00" text-anchor="start" fill="#000"><tspan>C: Mykhailiuk and co-workers' synthesis of a fluxapyroxad bioisostere [42]</tspan></text><text x="25.55" y="632.00" font-size="14" text-anchor="start" fill="#000"><tspan>O</tspan></text><text x="1.88" y="662.00" font-size="14" text-anchor="start" fill="#000"><tspan>Ar</tspan></text><text x="43.13" y="662.00" font-size="14" text-anchor="start" fill="#000"><tspan>OH</tspan></text><text x="26.23" y="691.75" font-size="14" font-weight="bold" stroke="none" text-anchor="start" fill="#000"><tspan>62</tspan></text><text x="50.86" y="572.60" font-size="14" text-anchor="start" fill="#000"><tspan>MeNHOMe</tspan></text><text x="46.99" y="588.00" font-size="14" text-anchor="start" fill="#000"><tspan>BrMg</tspan></text><text x="100.64" y="603.90" font-size="10.5" text-anchor="start" fill="#000"><tspan>2</tspan></text><text x="109.29" y="619.00" font-size="14" text-anchor="start" fill="#000"><tspan>365 nm</tspan></text><text x="155.86" y="583.50" font-size="14" text-anchor="start" fill="#000"><tspan>DPPA</tspan></text><text x="155.86" y="600.00" font-size="14" text-anchor="start" fill="#000"><tspan>DIPEA</tspan></text><text x="81.25" y="678.40" font-size="14" text-anchor="start" fill="#000"><tspan>CO</tspan><tspan font-size="10.5" dy="3">2</tspan><tspan dy="-3">Et</tspan></text><text x="126.52" y="678.40" font-size="14" text-anchor="start" fill="#000"><tspan>NaOH</tspan></text><text x="170.52" y="678.40" font-size="14" text-anchor="start" fill="#000"><tspan>NaOH</tspan></text><text x="63.86" y="708.90" font-size="14" text-anchor="start" fill="#000"><tspan>PO(OEt)</tspan><tspan font-size="10.5" dy="3">2</tspan></text><text x="73.00" y="725.00" font-size="14" text-anchor="start" fill="#000"><tspan>KO</tspan><tspan font-style="italic">t</tspan><tspan>-Bu</tspan></text><text x="223.86" y="600.50" font-size="14" text-anchor="start" fill="#000"><tspan>H</tspan><tspan font-size="10.5" dy="3">2</tspan><tspan dy="-3">N</tspan></text><text x="256.76" y="670.00" font-size="14" text-anchor="start" fill="#000"><tspan>Ar</tspan></text><text x="237.01" y="691.50" font-size="14" font-weight="bold" stroke="none" text-anchor="start" fill="#000"><tspan>(±)-63</tspan></text><text x="308.86" y="617.00" font-size="14" textLength="80.21" text-anchor="start" fill="#000"><tspan>1) Het-CO</tspan><tspan font-size="10.5" dy="3">2</tspan><tspan dy="-3">H</tspan></text><text x="323.83" y="634.25" font-size="14" text-anchor="start" fill="#000"><tspan>(COCl)</tspan><tspan font-size="10.5" dy="3">2</tspan></text><text x="325.55" y="659.50" font-size="14" text-anchor="start" fill="#000"><tspan>2) NEt</tspan><tspan font-size="10.5" dy="3">3</tspan></text><text x="560.40" y="704.00" font-size="14" text-anchor="start" fill="#000"><tspan>F</tspan></text><text x="529.53" y="729.20" font-size="14" text-anchor="start" fill="#000"><tspan>F</tspan></text><text x="491.86" y="716.60" font-size="14" text-anchor="start" fill="#000"><tspan>F</tspan></text><text x="472.30" y="730.60" font-size="14" font-weight="bold" stroke="none" text-anchor="start" fill="#000"><tspan>(±)-64</tspan></text><text x="427.00" y="557.50" font-size="14" text-anchor="start" fill="#000"><tspan>Me</tspan></text><text x="443.85" y="575.60" font-size="14" text-anchor="start" fill="#000"><tspan>N</tspan></text><text x="463.85" y="580.00" font-size="14" text-anchor="start" fill="#000"><tspan>N</tspan></text><text x="483.13" y="631.25" font-size="14" text-anchor="start" fill="#000"><tspan>O</tspan></text><text x="500.80" y="600.00" font-size="14" text-anchor="start" fill="#000"><tspan>N</tspan></text><text x="502.79" y="587.50" font-size="14" text-anchor="start" fill="#000"><tspan>H</tspan></text><text x="425.03" y="634.40" font-size="14" text-anchor="start" fill="#000"><tspan>F</tspan></text><text x="458.86" y="641.25" font-size="14" text-anchor="start" fill="#000"><tspan>F</tspan></text><text x="656.10" y="605.60" font-size="14" text-anchor="start" fill="#000"><tspan>F</tspan></text><text x="620.86" y="626.70" font-size="14" text-anchor="start" fill="#000"><tspan>F</tspan></text><text x="620.86" y="666.60" font-size="14" text-anchor="start" fill="#000"><tspan>F</tspan></text><text x="699.80" y="636.90" font-size="14" text-anchor="start" fill="#000"><tspan>HN</tspan></text><text x="725.29" y="606.40" font-size="14" text-anchor="start" fill="#000"><tspan>O</tspan></text><text x="745.18" y="656.50" font-size="14" text-anchor="start" fill="#000"><tspan>N</tspan></text><text x="765.10" y="660.60" font-size="14" text-anchor="start" fill="#000"><tspan>N</tspan></text><text x="772.66" y="679.70" font-size="14" text-anchor="start" fill="#000"><tspan>Me</tspan></text><text x="751.40" y="594.50" font-size="14" text-anchor="start" fill="#000"><tspan>F</tspan></text><text x="786.00" y="602.00" font-size="14" text-anchor="start" fill="#000"><tspan>F</tspan></text><text x="669.20" y="715.70" font-size="14" textLength="79.34" text-anchor="start" fill="#000"><tspan>fluxapyroxad</tspan></text><text x="4.80" y="758.75" font-size="14" textLength="318.17" text-anchor="start" fill="#000"><tspan>D: Yoo and co-workers' synthesis of 1,5-BCHs [43]</tspan></text><text x="43.74" y="826.70" font-size="14" text-anchor="start" fill="#000"><tspan>Ph</tspan></text><text x="49.29" y="846.25" font-size="14" text-anchor="start" fill="#000"><tspan>OH</tspan></text><text x="35.28" y="877.50" font-size="14" text-anchor="start" fill="#000"><tspan>OTBS</tspan></text><text x="19.21" y="908.10" font-size="14" font-weight="bold" stroke="none" text-anchor="start" fill="#000"><tspan>(±)-65</tspan></text><text x="94.75" y="838.00" font-size="14" textLength="80.73" text-anchor="start" fill="#000"><tspan>ZnEt</tspan><tspan font-size="10.5" dy="3">2</tspan><tspan dy="-3">, CH</tspan><tspan font-size="10.5" dy="3">2</tspan><tspan dy="-3">I</tspan><tspan font-size="10.5" dy="3">2</tspan></text><text x="247.42" y="827.50" font-size="14" text-anchor="start" fill="#000"><tspan>Ph</tspan></text><text x="253.02" y="846.75" font-size="14" text-anchor="start" fill="#000"><tspan>OH</tspan></text><text x="239.29" y="877.00" font-size="14" text-anchor="start" fill="#000"><tspan>OTBS</tspan></text><text x="223.21" y="908.10" font-size="14" font-weight="bold" stroke="none" text-anchor="start" fill="#000"><tspan>(±)-66</tspan></text><text x="305.04" y="839.00" font-size="14" text-anchor="start" fill="#000"><tspan font-style="italic">p</tspan><tspan>-TsOH</tspan></text><text x="404.40" y="810.80" font-size="14" text-anchor="start" fill="#000"><tspan>O</tspan></text><text x="407.86" y="886.00" font-size="14" text-anchor="start" fill="#000"><tspan>Ph</tspan></text><text x="397.00" y="907.60" font-size="14" font-weight="bold" stroke="none" text-anchor="start" fill="#000"><tspan>(±)-67</tspan></text><text x="369.80" y="923.60" font-size="14" textLength="91.24" text-anchor="start" fill="#000"><tspan>(79%, 2 steps)</tspan></text><text x="502.55" y="778.10" font-size="14" textLength="124.53" text-anchor="start" fill="#000"><tspan>BnNH</tspan><tspan font-size="10.5" dy="3">2</tspan><tspan dy="-3">, NaBH(CN)</tspan><tspan font-size="10.5" dy="3">3</tspan></text><text x="508.52" y="840.60" font-size="14" textLength="56.61" text-anchor="start" fill="#000"><tspan>DIBAL-H</tspan></text><text x="503.92" y="950.60" font-size="14" textLength="94.30" text-anchor="start" fill="#000"><tspan>1) NaH, triethyl</tspan></text><text x="519.33" y="966.90" font-size="14" textLength="116.32" text-anchor="start" fill="#000"><tspan>phosphonoacetate</tspan></text><text x="504.29" y="982.50" font-size="14" textLength="72.69" text-anchor="start" fill="#000"><tspan>2) Pd/C, H</tspan><tspan font-size="10.5" dy="3">2</tspan></text><text x="626.09" y="817.00" font-size="14" text-anchor="start" fill="#000"><tspan>OH</tspan></text><text x="614.45" y="886.60" font-size="14" text-anchor="start" fill="#000"><tspan>Ph</tspan></text><text x="604.65" y="907.60" font-size="14" font-weight="bold" stroke="none" text-anchor="start" fill="#000"><tspan>(±)-69</tspan></text><text x="567.00" y="924.00" font-size="14" textLength="109.15" text-anchor="start" fill="#000"><tspan>(quant., &gt;25:1 dr)</tspan></text><text x="719.85" y="756.00" font-size="14" text-anchor="start" fill="#000"><tspan>NHBn</tspan></text><text x="708.86" y="825.60" font-size="14" text-anchor="start" fill="#000"><tspan>Ph</tspan></text><text x="706.00" y="844.00" font-size="14" font-weight="bold" stroke="none" text-anchor="start" fill="#000"><tspan>(±)-68</tspan></text><text x="679.00" y="860.00" font-size="14" textLength="95.02" text-anchor="start" fill="#000"><tspan>(73%, 3.3:1 dr)</tspan></text><text x="748.02" y="902.90" font-size="14" text-anchor="start" fill="#000"><tspan>O</tspan></text><text x="739.13" y="936.00" font-size="14" text-anchor="start" fill="#000"><tspan>OEt</tspan></text><text x="703.52" y="980.40" font-size="14" text-anchor="start" fill="#000"><tspan>Ph</tspan></text><text x="706.00" y="1001.60" font-size="14" font-weight="bold" stroke="none" text-anchor="start" fill="#000"><tspan>(±)-70</tspan></text><text x="650.00" y="1019.40" font-size="14" textLength="147.02" text-anchor="start" fill="#000"><tspan>(87%, 1.9:1 dr, 2 steps)</tspan></text></g></svg>
</body></html>
